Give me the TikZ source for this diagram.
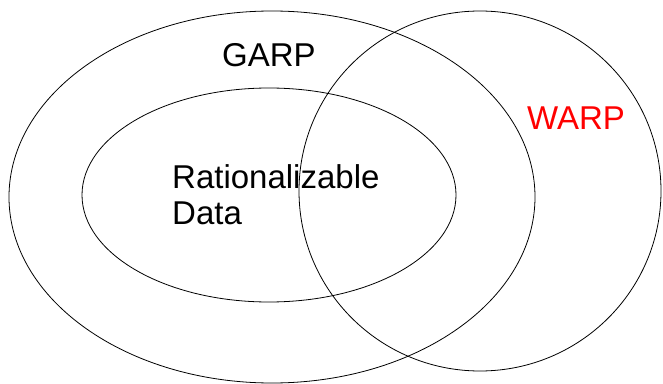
\documentclass[tikz,border=0pt]{standalone}
\usepackage{fontspec}
\setmainfont{Liberation Sans}
\begin{document}
\begin{tikzpicture}[x=1pt,y=1pt,
  setline/.style={draw=black,line width=0.8pt},
  setlabel/.style={font=\fontsize{33}{37}\selectfont,inner sep=0pt,anchor=base west}]
\useasboundingbox (0,0) rectangle (663,383);
% GARP set
\draw[setline] (272,186) ellipse [x radius=263pt, y radius=186pt];
% rationalizable data inside GARP
\draw[setline] (269,188) ellipse [x radius=187pt, y radius=107pt];
% WARP set
\draw[setline] (480,192) ellipse [x radius=181pt, y radius=180pt];
\node[setlabel] (garp) at (222,316) {GARP};
\node[setlabel,text=red] (warp) at (527,253) {WARP};
\node[setlabel] (rat) at (172,194) {Rationalizable};
\node[setlabel] (data) at (172,158) {Data};
\end{tikzpicture}
\end{document}
